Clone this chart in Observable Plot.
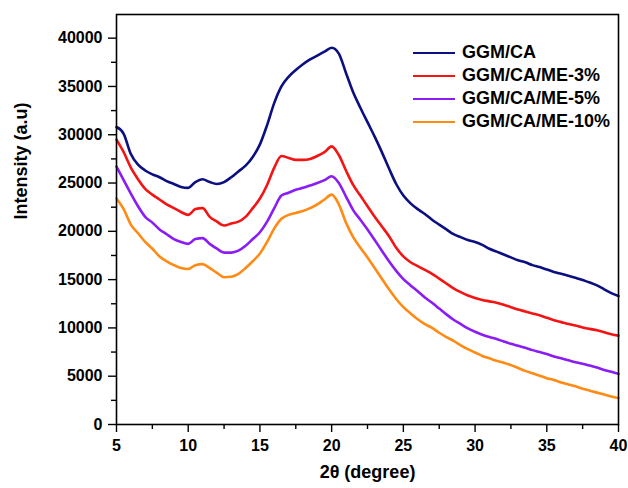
<!DOCTYPE html>
<html>
<head>
<meta charset="utf-8">
<script src="https://cdn.jsdelivr.net/npm/d3@7"></script>
<script src="https://cdn.jsdelivr.net/npm/@observablehq/plot@0.6"></script>
<style>
  body { margin: 0; background: #fff; }
  #chart { position: relative; width: 628px; height: 488px; font-family: "Liberation Sans", Arial, sans-serif; }
  .legend { position: absolute; left: 413px; top: 41px; font-weight: bold; font-size: 18px; color: #000; }
  .legend .row { display: flex; align-items: center; height: 23px; }
  .legend .sw { width: 42px; height: 0; border-top: 2px solid; margin-right: 7px; }
</style>
</head>
<body>
<div id="chart"></div>
<script>
const seriesNames = ["GGM/CA", "GGM/CA/ME-3%", "GGM/CA/ME-5%", "GGM/CA/ME-10%"];
const seriesColors = ["#0b0f80", "#f41414", "#8a1cf5", "#ff8a14"];

const twoTheta = [5,5.5,6,6.5,7,7.5,8,8.5,9,9.5,10,10.5,11,11.5,12,12.5,13,13.5,14,14.5,15,15.5,16,16.5,17,17.5,18,18.5,19,19.5,20,20.5,21,21.5,22,22.5,23,23.5,24,24.5,25,25.5,26,26.5,27,27.5,28,28.5,29,29.5,30,30.5,31,31.5,32,32.5,33,33.5,34,34.5,35,35.5,36,36.5,37,37.5,38,38.5,39,39.5,40];

const ggmCA = [30800,30100,28000,26900,26300,25900,25600,25200,24900,24600,24500,25100,25400,25100,24900,25100,25600,26200,26800,27700,29000,31000,33300,35000,36000,36700,37300,37800,38200,38600,39000,38400,36400,34400,32800,31300,29800,28200,26500,24900,23700,22900,22300,21800,21200,20700,20200,19700,19400,19100,18900,18600,18200,17900,17600,17300,17000,16800,16500,16300,16050,15800,15600,15400,15200,14950,14700,14400,14000,13600,13300];

const ggmME3 = [29500,28200,26600,25400,24400,23800,23300,22800,22400,22000,21700,22300,22400,21500,21000,20600,20800,21000,21500,22400,23400,24800,26600,27800,27600,27400,27400,27500,27800,28200,28800,27900,26300,24800,23700,22600,21500,20500,19500,18300,17400,16800,16400,16000,15600,15100,14600,14100,13700,13350,13100,12900,12750,12600,12400,12150,11900,11700,11500,11300,11050,10800,10600,10400,10250,10050,9900,9750,9550,9350,9200];

const ggmME5 = [26700,25300,23900,22600,21500,20900,20200,19700,19200,18900,18700,19200,19300,18700,18200,17800,17800,18000,18500,19200,19900,21000,22400,23700,24000,24300,24500,24750,25000,25300,25700,25000,23600,22200,21200,20200,19100,18000,16900,15900,15050,14400,13800,13150,12600,12000,11400,10850,10400,9950,9600,9300,9050,8850,8600,8350,8150,7950,7700,7500,7300,7050,6850,6650,6450,6300,6100,5900,5650,5450,5250];

const ggmME10 = [23400,22300,20700,19800,18900,18200,17400,16900,16500,16200,16100,16500,16600,16200,15700,15250,15300,15600,16200,16900,17700,18900,20300,21300,21700,21900,22100,22400,22800,23300,23800,22800,20900,19400,18300,17300,16200,15100,14000,13000,12150,11500,10900,10400,10000,9500,9050,8650,8200,7800,7450,7100,6850,6600,6400,6150,5850,5550,5300,5050,4800,4600,4350,4150,3950,3700,3500,3300,3100,2900,2750];

const xMajorTicks = [5,10,15,20,25,30,35,40];
const xMinorTicks = [7.5,12.5,17.5,22.5,27.5,32.5,37.5];
const yMajorTicks = [0,5000,10000,15000,20000,25000,30000,35000,40000];
const yMinorTicks = [2500,7500,12500,17500,22500,27500,32500,37500];

const allValues = [ggmCA, ggmME3, ggmME5, ggmME10];
const rows = seriesNames.flatMap((name, i) => twoTheta.map((t, j) => ({t, v: allValues[i][j], s: name})));

const font = "'Liberation Sans', Arial, sans-serif";
const chart = Plot.plot({
  width: 628,
  height: 488,
  marginLeft: 116,
  marginRight: 10,
  marginTop: 14,
  marginBottom: 64,
  style: {fontFamily: font, background: "#fff", overflow: "visible", color: "#000"},
  x: {domain: [5, 40]},
  y: {domain: [0, 42450]},
  color: {domain: seriesNames, range: seriesColors},
  marks: [
    Plot.line(rows, {x: "t", y: "v", z: "s", stroke: "s", strokeWidth: 2.6, curve: "monotone-x"}),
    Plot.frame({stroke: "#000", strokeWidth: 1.6}),
    Plot.axisY({ticks: yMajorTicks, tickSize: 8, tickPadding: 6, tickFormat: d => String(d), fontSize: 16, fontWeight: "bold", label: null, strokeWidth: 1.4}),
    Plot.axisY({ticks: yMinorTicks, tickSize: 5, text: null, label: null, strokeWidth: 1.4}),
    Plot.axisX({ticks: xMajorTicks, tickSize: 8, tickPadding: 7, tickFormat: d => String(d), fontSize: 16, fontWeight: "bold", label: null, strokeWidth: 1.4}),
    Plot.axisX({ticks: xMinorTicks, tickSize: 5, text: null, label: null, strokeWidth: 1.4}),
    Plot.text(["Intensity (a.u)"], {frameAnchor: "left", dx: -95, rotate: -90, fontSize: 18, fontWeight: "bold", fill: "#000"}),
    Plot.text(["2θ (degree)"], {frameAnchor: "bottom", dy: 53, fontSize: 18, fontWeight: "bold", fill: "#000"})
  ]
});

const container = document.getElementById("chart");
container.appendChild(chart);

const legend = document.createElement("div");
legend.className = "legend";
seriesNames.forEach((name, i) => {
  const row = document.createElement("div");
  row.className = "row";
  const sw = document.createElement("span");
  sw.className = "sw";
  sw.style.borderTopColor = seriesColors[i];
  const label = document.createElement("span");
  label.textContent = name;
  row.appendChild(sw);
  row.appendChild(label);
  legend.appendChild(row);
});
container.appendChild(legend);
</script>
</body>
</html>
